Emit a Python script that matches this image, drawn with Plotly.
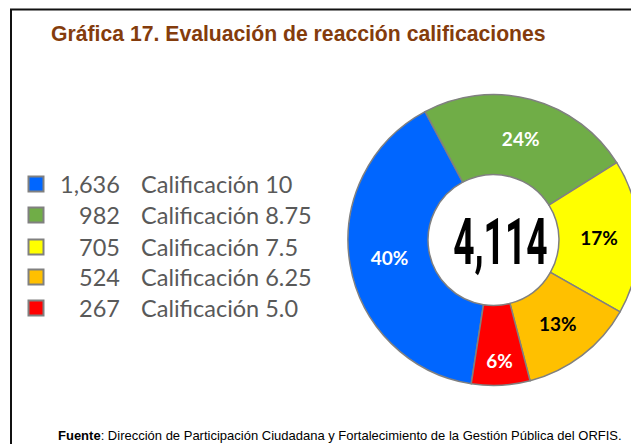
import plotly.graph_objects as go

labels = ["Calificación 10", "Calificación 8.75", "Calificación 7.5", "Calificación 6.25", "Calificación 5.0"]
counts = [1636, 982, 705, 524, 267]
colors = ["#0066FF", "#70AD47", "#FFFF00", "#FFC000", "#FF0000"]
text_colors = ["white", "white", "black", "black", "white"]

# page body keeps its 8px margin, so the figure is 8px smaller than the window
OFF = 8
W, H = 639 - OFF, 444 - OFF
total = sum(counts)
total_txt = f"{total:,}"


def px(x):
    return (x - OFF) / W


def py(y):
    return 1 - (y - OFF) / H


fig = go.Figure()
fig.add_trace(go.Pie(
    labels=labels, values=counts, sort=False, direction="clockwise",
    rotation=188.8, hole=0.45,
    marker=dict(colors=colors, line=dict(color="#808080", width=1.5)),
    texttemplate="%{percent:.0%}", textposition="inside",
    insidetextorientation="horizontal",
    textfont=dict(family="Lato", size=19, color=text_colors, weight="bold"),
    domain=dict(x=[px(348), 1.0], y=[py(386), py(94)]),
    showlegend=False, hoverinfo="label+value+percent",
))

# centre total (squeezed horizontally after render, no condensed font here)
fig.add_annotation(x=px(500), y=py(242), xref="paper", yref="paper",
                   text=total_txt, showarrow=False, xanchor="center", yanchor="middle",
                   font=dict(family="Roboto", size=64, color="black", weight=700))

# legend drawn by hand so counts line up
row_y = [184, 215, 247, 277, 308]
for lab, n, col, yy in zip(labels, counts, colors, row_y):
    fig.add_shape(type="rect", xref="paper", yref="paper",
                  x0=px(28.5), x1=px(43.5), y0=py(yy + 7.5), y1=py(yy - 7.5),
                  fillcolor=col, line=dict(color="#808080", width=2))
    fig.add_annotation(x=px(122), y=py(yy), xref="paper", yref="paper",
                       text=f"{n:,}", showarrow=False, xanchor="right", yanchor="middle",
                       font=dict(family="Lato", size=23.5, color="#595959"))
    fig.add_annotation(x=px(139), y=py(yy), xref="paper", yref="paper",
                       text=lab, showarrow=False, xanchor="left", yanchor="middle",
                       font=dict(family="Lato", size=23.5, color="#595959"))

fig.add_annotation(x=px(49), y=py(33), xref="paper", yref="paper",
                   text="<b>Gráfica 17. Evaluación de reacción calificaciones</b>",
                   showarrow=False, xanchor="left", yanchor="middle",
                   font=dict(family="Liberation Sans", size=21.2, color="#843C0C"))
fig.add_annotation(x=px(340), y=py(435.5), xref="paper", yref="paper",
                   text="<b>Fuente</b>: Dirección de Participación Ciudadana y Fortalecimiento de la Gestión Pública del ORFIS.",
                   showarrow=False, xanchor="center", yanchor="middle",
                   font=dict(family="Liberation Sans", size=13, color="black"))

# frame, running off the right and bottom edges
fig.add_shape(type="rect", xref="paper", yref="paper",
              x0=px(11), x1=1.02, y0=-0.05, y1=py(9.5),
              line=dict(color="#111111", width=2), layer="below")

fig.update_layout(width=W, height=H, margin=dict(l=0, r=0, t=0, b=0),
                  paper_bgcolor="white", plot_bgcolor="white")

squeeze = """
var gd = document.getElementById('{plot_id}');
gd.querySelectorAll('.annotation-text').forEach(function(t) {
  if (t.textContent === '%s') {
    var b = t.getBBox(), cx = b.x + b.width / 2;
    t.setAttribute('transform', 'translate(' + cx + ',0) scale(0.58,1) translate(' + (-cx) + ',0)');
  }
});
""" % total_txt
fig.write_html("out.html", post_script=squeeze)
